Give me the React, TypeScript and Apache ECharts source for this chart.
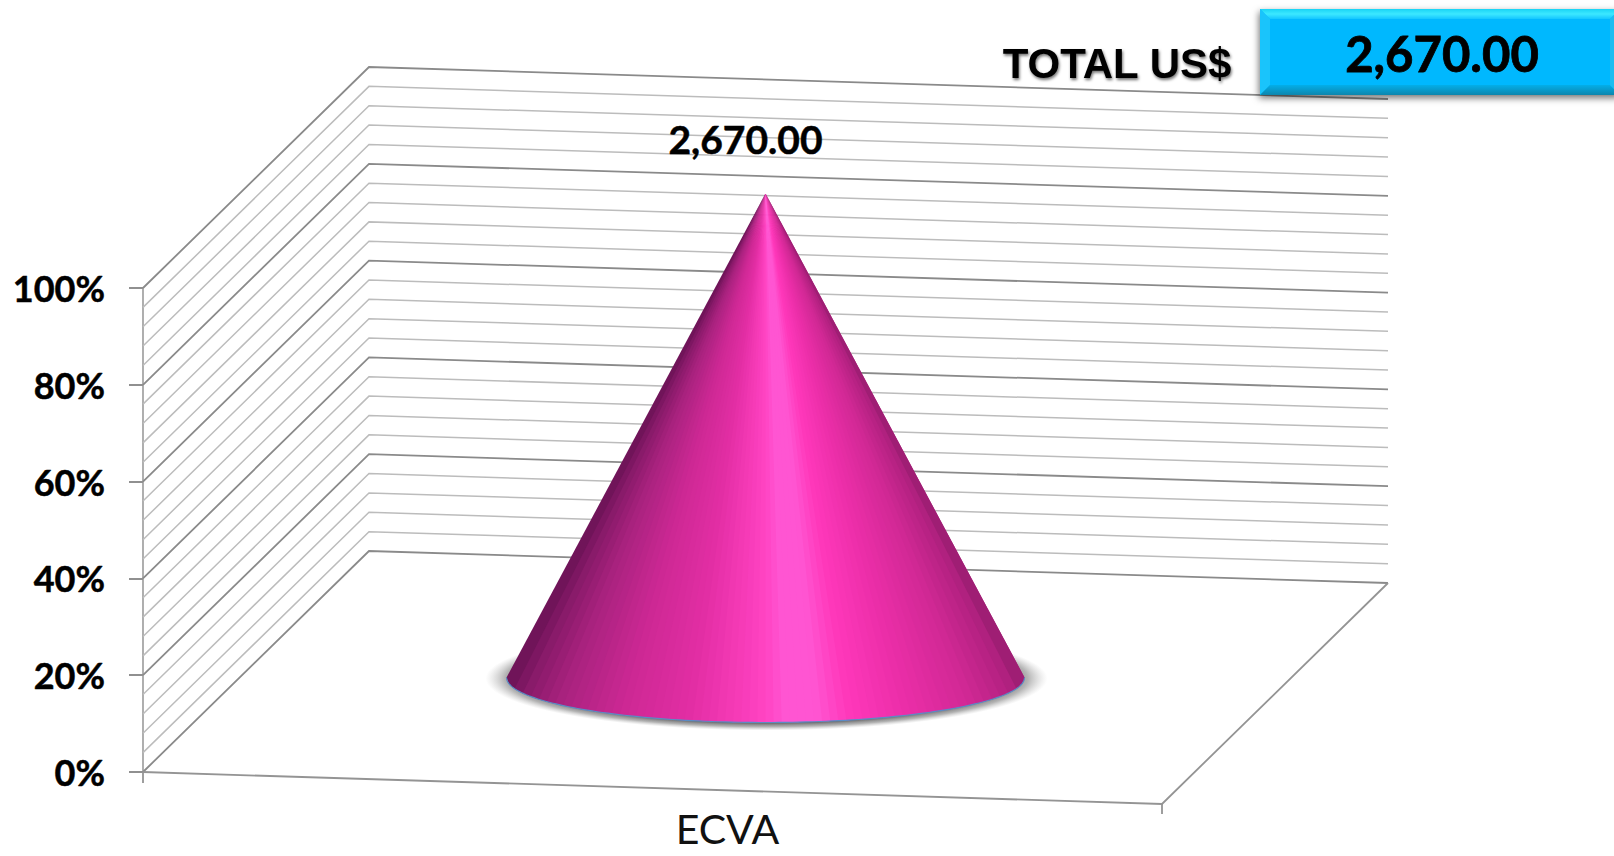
import React, { useEffect, useRef } from "react";
import * as echarts from "echarts";

const categories = ["ECVA"];
const shareValues = [100];
const amountValues = [2670];
const yTicks = [0, 20, 40, 60, 80, 100];
const wallLevels = [0, 4, 8, 12, 16, 20, 24, 28, 32, 36, 40, 44, 48, 52, 56, 60, 64, 68, 72, 76, 80, 84, 88, 92, 96, 100];
const totalLabel = "TOTAL US$";
const totalValue = "2,670.00";

const DEPTH_X = 226;
const DEPTH_Y = 221;
const SKEW_Y = 32;
const CONE_RX = 259;
const CONE_RY = 45;
const CALIBRI = "Lato, 'Open Sans', sans-serif";

const CONE_STOPS: [number, number[]][] = [
  [-1, [105, 18, 85]],
  [-0.93, [135, 26, 105]],
  [-0.8, [168, 34, 126]],
  [-0.55, [205, 40, 148]],
  [-0.3, [226, 46, 164]],
  [-0.12, [245, 58, 182]],
  [0, [255, 68, 195]],
  [0.08, [255, 85, 210]],
  [0.2, [255, 85, 210]],
  [0.32, [255, 56, 187]],
  [0.55, [235, 46, 168]],
  [0.8, [208, 40, 148]],
  [0.95, [178, 33, 128]],
  [1, [150, 28, 110]],
];

function coneColor(s: number) {
  for (let i = 1; i < CONE_STOPS.length; i++) {
    const [s1, c1] = CONE_STOPS[i];
    if (s <= s1) {
      const [s0, c0] = CONE_STOPS[i - 1];
      const t = (s - s0) / (s1 - s0);
      const c = c0.map((v, k) => Math.round(v + (c1[k] - v) * t));
      return `rgb(${c[0]},${c[1]},${c[2]})`;
    }
  }
  return "rgb(150,28,110)";
}

function project(params: any, api: any, u: number, d: number, v: number) {
  const cs = params.coordSys;
  return [cs.x + u * cs.width + d * DEPTH_X, api.coord([0, v])[1] + u * SKEW_Y - d * DEPTH_Y];
}

function renderWall(params: any, api: any) {
  const level = api.value(0);
  const major = level % 20 === 0;
  const color = major ? "#8a8a8a" : "#bcbcbc";
  const children: any[] = [
    {
      type: "polyline",
      shape: { points: [project(params, api, 0, 0, level), project(params, api, 0, 1, level), project(params, api, 1, 1, level)] },
      style: { stroke: color, lineWidth: major ? 1.8 : 1.5, fill: "none" },
    },
  ];
  if (level === 0) {
    const fl = project(params, api, 0, 0, 0);
    const fr = project(params, api, 1, 0, 0);
    const br = project(params, api, 1, 1, 0);
    children.push(
      { type: "polyline", shape: { points: [fl, fr, br] }, style: { stroke: "#949494", lineWidth: 1.8, fill: "none" } },
      { type: "line", shape: { x1: fl[0], y1: fl[1], x2: fl[0], y2: fl[1] + 11 }, style: { stroke: "#949494", lineWidth: 1.8 } },
      { type: "line", shape: { x1: fr[0], y1: fr[1], x2: fr[0], y2: fr[1] + 10 }, style: { stroke: "#949494", lineWidth: 1.8 } }
    );
  }
  return { type: "group", children };
}

function renderCone(params: any, api: any) {
  const share = api.value(1);
  const amount = api.value(2);
  const base = project(params, api, 0.5, 0.5, 0);
  const apex = project(params, api, 0.5, 0.5, share);
  const [cx, cy] = base;
  const children: any[] = [
    {
      type: "ellipse",
      shape: { cx: cx + 1, cy: cy + 1, rx: CONE_RX + 22, ry: CONE_RY + 7 },
      style: {
        fill: {
          type: "radial",
          x: 0.5,
          y: 0.5,
          r: 0.5,
          colorStops: [
            { offset: 0, color: "rgba(95,95,95,0.9)" },
            { offset: 0.86, color: "rgba(95,95,95,0.9)" },
            { offset: 0.93, color: "rgba(130,130,130,0.6)" },
            { offset: 1, color: "rgba(180,180,180,0)" },
          ],
        },
      },
    },
  ];
  const rimAt = (s: number) => {
    const t = Math.acos(Math.min(1, s));
    return [cx + CONE_RX * Math.cos(t), cy + CONE_RY * Math.sin(t)];
  };
  const N = 64;
  for (let i = 0; i < N; i++) {
    const s0 = -1 + (2 * i) / N;
    const s1 = -1 + (2 * (i + 1)) / N;
    const end = Math.min(1, s1 + 2 / N);
    const color = coneColor((s0 + s1) / 2);
    const pts: number[][] = [apex];
    for (let k = 0; k <= 8; k++) pts.push(rimAt(s0 + ((end - s0) * k) / 8));
    children.push({
      type: "polygon",
      shape: { points: pts },
      style: { fill: color },
    });
  }
  const rim: number[][] = [];
  const M = 120;
  for (let i = 0; i <= M; i++) {
    const t = Math.PI - (i / M) * Math.PI;
    rim.push([cx + CONE_RX * Math.cos(t), cy + CONE_RY * Math.sin(t)]);
  }
  children.push({
    type: "polyline",
    shape: { points: rim },
    style: { stroke: "#5a8cc4", lineWidth: 1.2, fill: "none" },
  });
  children.push({
    type: "text",
    style: {
      x: apex[0] - 20,
      y: apex[1] - 55,
      text: amount.toLocaleString("en-US", { minimumFractionDigits: 2, maximumFractionDigits: 2 }),
      fill: "#000",
      stroke: "#000",
      lineWidth: 0.5,
      font: `bold 39px ${CALIBRI}`,
      align: "center",
      verticalAlign: "middle",
    },
  });
  return { type: "group", children };
}

export default function App() {
  const ref = useRef<HTMLDivElement>(null);
  useEffect(() => {
    document.body.style.margin = "0";
    document.body.style.background = "#fff";
    const chart = echarts.init(ref.current!, null, { renderer: "svg" });
    const L = 1260, R = 1620, T = 9, B = 95, W = 10;
    chart.setOption({
      animation: false,
      backgroundColor: "#ffffff",
      grid: { left: 143, top: 288, width: 1019, height: 484 },
      xAxis: {
        type: "category",
        data: categories,
        axisLine: { show: false },
        axisTick: { show: false },
        axisLabel: {
          margin: 38,
          padding: [0, 0, 0, 150],
          lineHeight: 36,
          color: "#111",
          fontFamily: CALIBRI,
          fontSize: 41,
        },
      },
      yAxis: {
        type: "value",
        min: yTicks[0],
        max: yTicks[yTicks.length - 1],
        interval: yTicks[1] - yTicks[0],
        splitLine: { show: false },
        axisLine: { show: true, lineStyle: { color: "#a6a6a6", width: 1.8 } },
        axisTick: { show: true, length: 14, lineStyle: { color: "#909090", width: 2 } },
        axisLabel: {
          margin: 38,
          formatter: "{value}%",
          color: "#000",
          fontFamily: CALIBRI,
          fontWeight: "bold",
          fontSize: 36,
          textBorderColor: "#000",
          textBorderWidth: 0.5,
        },
      },
      series: [
        {
          type: "custom",
          silent: true,
          renderItem: renderWall,
          data: wallLevels.map((v) => [v]),
          encode: { y: 0 },
          clip: false,
          z: 2,
        },
        {
          type: "custom",
          silent: true,
          renderItem: renderCone,
          data: categories.map((_, i) => [i, shareValues[i], amountValues[i]]),
          encode: { x: 0, y: 1 },
          clip: false,
          z: 3,
        },
      ],
      graphic: [
        {
          type: "rect",
          z: 100,
          shape: { x: L, y: T, width: R - L, height: B - T },
          style: { fill: "#00b8fe", shadowBlur: 7, shadowOffsetX: -1, shadowOffsetY: 3, shadowColor: "rgba(0,0,0,0.55)" },
        },
        {
          type: "polygon",
          z: 101,
          shape: { points: [[L, T], [R, T], [R - W, T + W], [L + W, T + W]] },
          style: {
            fill: {
              type: "linear", x: 0, y: 0, x2: 0, y2: 1,
              colorStops: [{ offset: 0, color: "#19d4f5" }, { offset: 0.5, color: "#3ce8ff" }, { offset: 1, color: "#14c6ff" }],
            },
          },
        },
        {
          type: "polygon",
          z: 101,
          shape: { points: [[L, T], [L + W, T + W], [L + W, B - W], [L, B]] },
          style: { fill: "#1ac4fb" },
        },
        {
          type: "polygon",
          z: 101,
          shape: { points: [[L, B], [L + W, B - W], [R - W, B - W], [R, B]] },
          style: {
            fill: {
              type: "linear", x: 0, y: 0, x2: 0, y2: 1,
              colorStops: [{ offset: 0, color: "#03aee8" }, { offset: 1, color: "#0d86ad" }],
            },
          },
        },
        {
          type: "polygon",
          z: 101,
          shape: { points: [[R, T], [R, B], [R - W, B - W], [R - W, T + W]] },
          style: { fill: "#1cbdf0" },
        },
        {
          type: "text",
          z: 102,
          style: {
            x: 1442,
            y: 53,
            text: totalValue,
            fill: "#000",
            stroke: "#000",
            lineWidth: 0.8,
            font: `bold 49px ${CALIBRI}`,
            align: "center",
            verticalAlign: "middle",
          },
        },
        {
          type: "text",
          z: 102,
          style: {
            x: 1117,
            y: 63,
            text: totalLabel,
            fill: "#000",
            font: "bold 42px 'Liberation Sans', Arial, sans-serif",
            align: "center",
            verticalAlign: "middle",
            textShadowColor: "rgba(0,0,0,0.55)",
            textShadowBlur: 3,
            textShadowOffsetX: 1,
            textShadowOffsetY: 2,
          },
        },
      ],
    });
    return () => chart.dispose();
  }, []);
  return <div ref={ref} style={{ position: "absolute", left: 0, top: 0, width: 1614, height: 856, overflow: "hidden" }} />;
}
